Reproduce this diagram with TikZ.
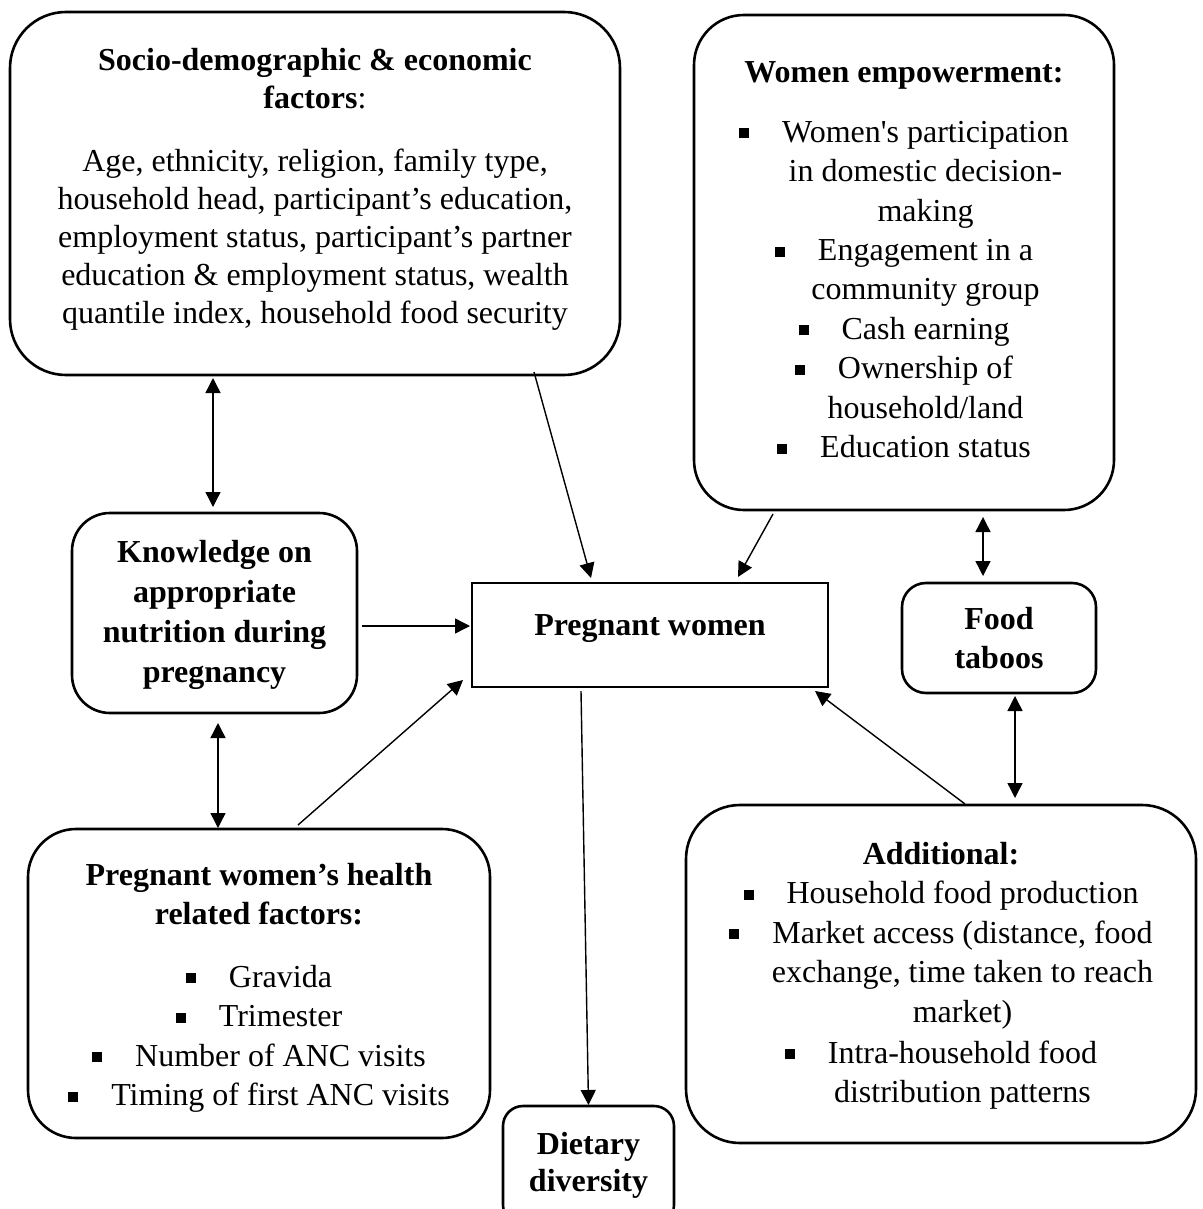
\documentclass[tikz,border=0pt]{standalone}
\usepackage{fontspec}
\setmainfont{Liberation Serif}
\usetikzlibrary{arrows.meta,calc}

\newcommand{\bul}{\raisebox{2pt}{\rule{5pt}{5pt}}\hspace{16.5pt}}
\newcommand{\ind}{\hspace*{21.5pt}}

\begin{document}
\begin{tikzpicture}[x=0.5pt, y=-0.5pt, outer sep=0pt]

\tikzstyle{factor}=[draw, line width=1.3pt, inner sep=0pt, align=center, font=\fontsize{16}{19.7}\selectfont]
\tikzstyle{link}=[line width=0.7pt, -{Triangle[length=7.5pt,width=7.5pt]}]
\tikzstyle{twoway}=[line width=0.7pt, {Triangle[length=7.5pt,width=7.5pt]}-{Triangle[length=7.5pt,width=7.5pt]}]

\useasboundingbox (0,0) rectangle (1203,1209);

\node[factor, rounded corners=28pt, minimum width=305pt, minimum height=181.5pt, font=\fontsize{16}{19}\selectfont] (socio) at (315,193.5) {\textbf{Socio-demographic \& economic}\\ \textbf{factors}:\\[12.5pt] Age, ethnicity, religion, family type,\\ household head, participant’s education,\\ employment status, participant’s partner\\ education \& employment status, wealth\\ quantile index, household food security\rule[-8pt]{0pt}{0pt}};
\node[factor, rounded corners=25pt, minimum width=210pt, minimum height=247.5pt] (empower) at (904,262.5) {\textbf{Women empowerment:}\\[10.3pt] \bul Women\textquotesingle s participation\\ \ind in domestic decision-\\ \ind making\\ \bul Engagement in a\\ \ind community group\\ \bul Cash earning\\ \bul Ownership of\\ \ind household/land\\ \bul Education status\rule[-3pt]{0pt}{0pt}};
\node[factor, rounded corners=19pt, minimum width=142.5pt, minimum height=100pt, font=\fontsize{16}{20}\selectfont\bfseries] (knowledge) at (214.5,613) {\rule{0pt}{13pt}Knowledge on\\ appropriate\\ nutrition during\\ pregnancy};
\node[factor, minimum width=178pt, minimum height=52pt, font=\fontsize{16}{19.7}\selectfont\bfseries] (pregnant) at (650,635) {Pregnant women\rule[-10pt]{0pt}{0pt}};
\node[factor, rounded corners=12pt, minimum width=97pt, minimum height=55pt, font=\fontsize{16}{19.7}\selectfont\bfseries] (taboos) at (999,638) {Food\\ taboos};
\node[factor, rounded corners=24pt, minimum width=231pt, minimum height=154.5pt] (health) at (259,983.5) {\rule{0pt}{15.5pt}\textbf{Pregnant women’s health}\\ \textbf{related factors:}\\[11.5pt] \bul Gravida\\ \bul Trimester\\ \bul Number of ANC visits\\ \bul Timing of first ANC visits};
\node[factor, rounded corners=27pt, minimum width=255pt, minimum height=169pt] (additional) at (941,974) {\rule{0pt}{13pt}\textbf{Additional:}\\ \bul Household food production\\ \bul Market access (distance, food\\ \ind exchange, time taken to reach\\ \ind market)\\[1pt] \bul Intra-household food\\ \ind distribution patterns};
\node[factor, rounded corners=10pt, minimum width=85.5pt, minimum height=59.5pt, font=\fontsize{16}{18.5}\selectfont\bfseries] (dietary) at (588.5,1165.5) {Dietary\\ diversity};

\draw[twoway] ($(knowledge.north)+(-1.5,-6)$) -- ($(knowledge.north |- socio.south)+(-1.5,3)$);
\draw[twoway] ($(knowledge.south)+(3.5,10)$) -- ($(knowledge.south |- health.north)+(3.5,-1)$);
\draw[twoway] ($(taboos.north)+(-16,-7)$) -- ($(taboos.north |- empower.south)+(-16,7)$);
\draw[twoway] ($(taboos.south)+(16,3)$) -- ($(taboos.south |- additional.north)+(16,-7)$);

\draw[link] ($(socio.south)+(219,-3)$) -- ($(pregnant.north)+(-59,-5)$);
\draw[link] ($(empower.south)+(-131,4)$) -- ($(pregnant.north)+(88,-6)$);
\draw[link] ($(knowledge.east)+(5,13)$) -- ($(pregnant.west)+(-2,-9)$);
\draw[link] ($(health.north)+(39,-4)$) -- ($(pregnant.south west)+(-9,-7)$);
\draw[link] ($(additional.north)+(24,-1)$) -- ($(pregnant.south east)+(-13,4)$);
\draw[link] ($(pregnant.south)+(-69,4)$) -- ($(dietary.north)+(0,-1)$);

\end{tikzpicture}
\end{document}
